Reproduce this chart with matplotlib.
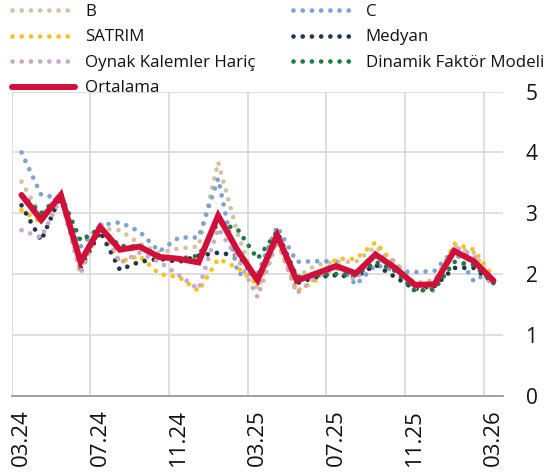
import numpy as np
import matplotlib
matplotlib.use("Agg")
import matplotlib.pyplot as plt

plt.rcParams['font.family'] = ['Open Sans', 'DejaVu Sans']

months = ["03.24", "04.24", "05.24", "06.24", "07.24", "08.24", "09.24", "10.24",
          "11.24", "12.24", "01.25", "02.25", "03.25", "04.25", "05.25", "06.25",
          "07.25", "08.25", "09.25", "10.25", "11.25", "12.25", "01.26", "02.26", "03.26"]

b_vals = [3.52, 2.95, 3.35, 2.02, 2.75, 2.72, 2.50, 2.35, 2.42, 2.45, 3.84, 2.65, 1.75,
          2.60, 1.95, 2.15, 2.20, 2.20, 2.45, 2.20, 1.85, 1.90, 2.45, 2.35, 1.85]
c_vals = [4.00, 3.30, 3.25, 2.45, 2.80, 2.85, 2.70, 2.37, 2.60, 2.60, 3.57, 2.00, 2.00,
          2.78, 2.20, 2.21, 2.21, 1.82, 2.15, 2.05, 2.03, 2.05, 2.40, 1.88, 2.08]
satrim = [3.05, 2.85, 3.30, 2.10, 2.75, 2.20, 2.30, 2.00, 1.95, 1.72, 2.25, 2.10, 1.82,
          2.55, 1.72, 1.90, 2.25, 2.25, 2.52, 2.15, 1.80, 1.78, 2.50, 2.40, 1.95]
medyan = [3.13, 2.55, 3.30, 2.10, 2.70, 2.07, 2.20, 2.25, 2.20, 2.30, 2.35, 2.30, 1.90,
          2.65, 1.85, 1.95, 1.98, 1.95, 2.15, 1.95, 1.75, 1.80, 2.10, 2.10, 1.85]
oynak = [2.72, 2.60, 3.25, 2.00, 2.86, 2.18, 2.35, 2.20, 1.98, 1.75, 2.75, 2.25, 1.62,
         2.55, 1.68, 1.95, 2.10, 1.90, 2.35, 2.20, 1.75, 1.72, 2.45, 2.30, 1.77]
dfm = [3.30, 3.00, 3.30, 2.55, 2.75, 2.46, 2.45, 2.30, 2.25, 2.30, 2.85, 2.73, 2.25,
       2.70, 1.95, 1.97, 2.00, 1.98, 2.20, 2.05, 1.72, 1.75, 2.20, 2.15, 1.85]
ortalama = [3.30, 2.89, 3.30, 2.20, 2.77, 2.40, 2.45, 2.28, 2.25, 2.19, 2.96, 2.38, 1.90,
            2.64, 1.89, 2.01, 2.13, 2.01, 2.32, 2.10, 1.82, 1.83, 2.38, 2.21, 1.89]

series = [
    ("B", b_vals, "#d3c3a0"),
    ("C", c_vals, "#7ea2d2"),
    ("SATRIM", satrim, "#f4c227"),
    ("Medyan", medyan, "#243447"),
    ("Oynak Kalemler Hariç", oynak, "#c7a9c9"),
    ("Dinamik Faktör Modeli", dfm, "#1d7b48"),
]

fig = plt.figure(figsize=(5.47, 4.72), dpi=100)
ax = fig.add_axes([11.7 / 547, 1 - 395.5 / 472, (503.3 - 11.7) / 547, (395.5 - 91.7) / 472])

x = np.arange(len(months))
handles = {}
for name, vals, col in series:
    ln, = ax.plot(x, vals, color=col, lw=3.4, linestyle=(0, (0.001, 1.95)),
                  dash_capstyle='round', solid_capstyle='round', label=name, zorder=3)
    handles[name] = ln
ln, = ax.plot(x, ortalama, color="#d0103a", lw=4.3, solid_capstyle='round',
              solid_joinstyle='miter', label="Ortalama", zorder=5)
handles["Ortalama"] = ln

ax.set_xlim(-0.5, len(months) - 0.5)
ax.set_ylim(0, 5)
ax.set_yticks([0, 1, 2, 3, 4, 5])
ax.set_xticks(x[::4])
ax.set_xticklabels([months[i] for i in x[::4]], rotation=90, fontsize=16)
ax.set_xticks(np.arange(-0.5, len(months) - 0.5, 4), minor=True)

ax.yaxis.tick_right()
ax.tick_params(axis='y', length=0, pad=16, labelsize=15, labelcolor='#111111')
ax.tick_params(axis='x', which='both', length=0, pad=10, labelcolor='#111111')
ax.grid(axis='y', color='#d9d9d9', lw=1.2)
ax.grid(axis='x', which='minor', color='#d9d9d9', lw=1.2)
ax.grid(axis='x', which='major', visible=False)
ax.set_axisbelow(True)
for s in ['top', 'right', 'left']:
    ax.spines[s].set_visible(False)
ax.spines['bottom'].set_color('#9a9a9a')
ax.spines['bottom'].set_linewidth(1.3)
ax.spines['bottom'].set_zorder(2)

order = ["B", "SATRIM", "Oynak Kalemler Hariç", "Ortalama", "C", "Medyan", "Dinamik Faktör Modeli"]
leg = fig.legend([handles[n] for n in order], order, loc='upper left',
                 bbox_to_anchor=(12 / 547, 1 - 4 / 472), ncol=2, frameon=False,
                 fontsize=12.2, handlelength=3.72, handletextpad=0.59,
                 columnspacing=2.2, labelspacing=0.56, borderpad=0, borderaxespad=0)
for t in leg.get_texts():
    t.set_color('#111111')

fig.savefig("out.png", dpi=100)
